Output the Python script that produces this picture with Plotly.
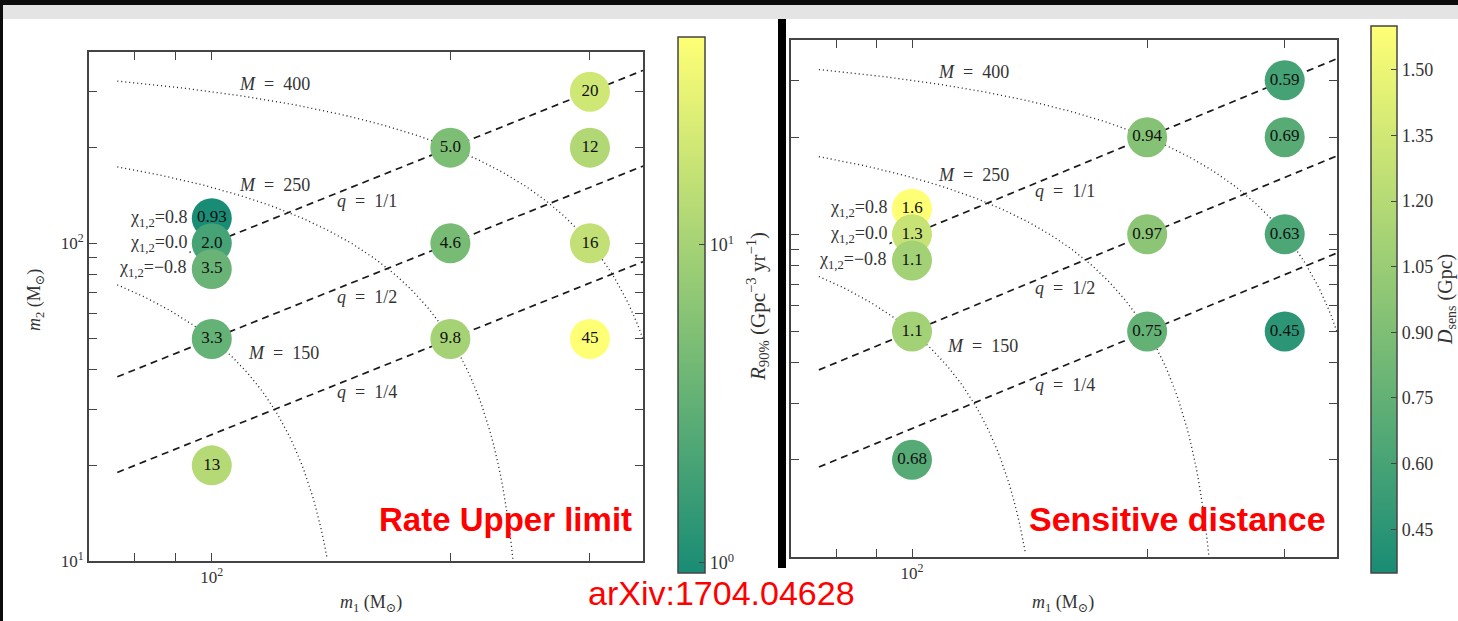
import numpy as np
import plotly.graph_objects as go

# ---- data -------------------------------------------------------------
# Component masses of the injected IMBH binaries (solar masses).
# The three stacked points at (100, 100) are the spin variants.
m1_vals = [100, 100, 100, 100, 100, 200, 200, 200, 300, 300, 300, 300]
m2_vals = [120, 100, 83, 50, 20, 200, 100, 50, 300, 200, 100, 50]

# 90% upper limit on merger rate (Gpc^-3 yr^-1)
rate_vals = [0.93, 2.0, 3.5, 3.3, 13, 5.0, 4.6, 9.8, 20, 12, 16, 45]
rate_text = ["0.93", "2.0", "3.5", "3.3", "13", "5.0", "4.6", "9.8", "20", "12", "16", "45"]

# Sensitive distance (Gpc)
dist_vals = [1.6, 1.3, 1.1, 1.1, 0.68, 0.94, 0.97, 0.75, 0.59, 0.69, 0.63, 0.45]
dist_text = ["1.6", "1.3", "1.1", "1.1", "0.68", "0.94", "0.97", "0.75", "0.59", "0.69", "0.63", "0.45"]

spin_labels = ["χ<sub>1,2</sub>=0.8", "χ<sub>1,2</sub>=0.0", "χ<sub>1,2</sub>=−0.8"]
spin_m2 = [120, 100, 83]

total_masses = [150, 250, 400]
mass_ratios = [1.0, 0.5, 0.25]
ratio_labels = ["1/1", "1/2", "1/4"]

x_ticks = [80, 90, 100, 200, 300]
x_ticktext = ["", "", "10<sup>2</sup>", "", ""]
y_ticks = [10, 20, 30, 40, 50, 60, 70, 80, 90, 100, 200, 300]
y_ticktext = ["10<sup>1</sup>", "", "", "", "", "", "", "", "", "10<sup>2</sup>", "", ""]

rate_range = [0.93, 45]
dist_range = [0.35, 1.6]
dist_cbar_ticks = [0.45, 0.60, 0.75, 0.90, 1.05, 1.20, 1.35, 1.50]

# ---- page geometry ------------------------------------------------------
W, H = 1458, 621


def px(x):
    return x / W


def py(y):
    return 1 - y / H


# "summer" colormap seen through a slight transparency on white
alpha = 0.9
def _blend(c):
    return "rgb(%d,%d,%d)" % tuple(round(255 * (alpha * v + 1 - alpha)) for v in c)

summer = [[0.0, _blend((0.0, 0.5, 0.4))], [1.0, _blend((1.0, 1.0, 0.4))]]

SERIF = "Liberation Serif, DejaVu Serif, serif"
SANS = "Liberation Sans, Arial, sans-serif"
AX_COLOR = "#444"
TXT_COLOR = "#333"
EN = "\u2002"

fig = go.Figure()

panels = [
    dict(xa="x", ya="y", xdom=[px(89), px(643)], ydom=[py(561), py(52)]),
    dict(xa="x2", ya="y2", xdom=[px(791), px(1337)], ydom=[py(557), py(40)]),
]

# guide curves: constant total mass (dotted) and constant mass ratio (dashed)
m1_line = np.geomspace(76, 400, 200)
for p in panels:
    for M in total_masses:
        m1c = m1_line[m1_line < M - 9.5]
        fig.add_trace(go.Scatter(
            x=m1c, y=M - m1c, mode="lines", xaxis=p["xa"], yaxis=p["ya"],
            line=dict(color="#1a1a1a", width=1.3, dash="1px,3px"),
            hoverinfo="skip", showlegend=False))
    for q in mass_ratios:
        m1q = np.array([76, 350])
        fig.add_trace(go.Scatter(
            x=m1q, y=q * m1q, mode="lines", xaxis=p["xa"], yaxis=p["ya"],
            line=dict(color="#1a1a1a", width=1.7, dash="7px,5px"),
            hoverinfo="skip", showlegend=False))

# rate upper limits (log colour scale)
fig.add_trace(go.Scatter(
    x=m1_vals, y=m2_vals, mode="markers+text", xaxis="x", yaxis="y",
    text=rate_text, textposition="middle center",
    textfont=dict(family=SERIF, size=17, color="#111"),
    marker=dict(size=40, color=np.log10(rate_vals), colorscale=summer,
                cmin=np.log10(rate_range[0]), cmax=np.log10(rate_range[1]),
                line=dict(width=0),
                colorbar=dict(
                    x=px(678), xanchor="left", xpad=0, ypad=0,
                    y=py(37), yanchor="top", len=536, lenmode="pixels",
                    thickness=27, outlinecolor=AX_COLOR, outlinewidth=1.5,
                    tickvals=[0, 1], ticktext=["10<sup>0</sup>", "10<sup>1</sup>"],
                    ticks="inside", ticklen=6, tickcolor=AX_COLOR,
                    tickfont=dict(family=SERIF, size=18, color=TXT_COLOR))),
    hoverinfo="skip", showlegend=False))

# sensitive distance (linear colour scale)
fig.add_trace(go.Scatter(
    x=m1_vals, y=m2_vals, mode="markers+text", xaxis="x2", yaxis="y2",
    text=dist_text, textposition="middle center",
    textfont=dict(family=SERIF, size=17, color="#111"),
    marker=dict(size=40, color=dist_vals, colorscale=summer,
                cmin=dist_range[0], cmax=dist_range[1], line=dict(width=0),
                colorbar=dict(
                    x=px(1371), xanchor="left", xpad=0, ypad=0,
                    y=py(26), yanchor="top", len=547, lenmode="pixels",
                    thickness=26, outlinecolor=AX_COLOR, outlinewidth=1.5,
                    tickvals=dist_cbar_ticks,
                    ticktext=["%.2f" % v for v in dist_cbar_ticks],
                    ticks="inside", ticklen=6, tickcolor=AX_COLOR,
                    tickfont=dict(family=SERIF, size=18, color=TXT_COLOR))),
    hoverinfo="skip", showlegend=False))

axis_common = dict(
    type="log", showgrid=False, zeroline=False, showline=True, automargin=False,
    linecolor=AX_COLOR, linewidth=1.6, mirror="ticks",
    ticks="inside", ticklen=8, tickwidth=1.2, tickcolor=AX_COLOR,
    tickfont=dict(family=SERIF, size=17, color=TXT_COLOR),
)

layout_axes = {}
for i, p in enumerate(panels):
    sx = "" if i == 0 else "2"
    layout_axes["xaxis" + sx] = dict(
        axis_common, domain=p["xdom"], range=[np.log10(70), np.log10(350)],
        tickmode="array", tickvals=x_ticks, ticktext=x_ticktext,
        anchor="y" + sx)
    layout_axes["yaxis" + sx] = dict(
        axis_common, domain=p["ydom"], range=[1, np.log10(400)],
        tickmode="array", tickvals=y_ticks,
        ticktext=y_ticktext if i == 0 else [""] * len(y_ticks),
        anchor="x" + sx)

annotations = []
lbl_font = dict(family=SERIF, size=18, color=TXT_COLOR)
for i, p in enumerate(panels):
    xr, yr = p["xa"], p["ya"]
    # spin labels next to the stacked points
    for lab, m2 in zip(spin_labels, spin_m2):
        annotations.append(dict(
            x=np.log10(100), y=np.log10(m2), xref=xr, yref=yr,
            text=lab, showarrow=False, xanchor="right", yanchor="middle",
            xshift=-22, font=dict(family=SERIF, size=18, color=TXT_COLOR),
            bgcolor="white", borderpad=2))
    # total-mass labels
    for M, (lx, ly) in zip(total_masses, [(123, 45), (120, 153), (120, 318)]):
        annotations.append(dict(
            x=np.log10(lx), y=np.log10(ly), xref=xr, yref=yr,
            xanchor="center", yanchor="middle",
            text="<i>M</i>%s=%s%d" % (EN, EN, M), showarrow=False, font=lbl_font))
    # mass-ratio labels
    for lab, ly in zip(ratio_labels, [136, 68, 34]):
        annotations.append(dict(
            x=np.log10(157), y=np.log10(ly), xref=xr, yref=yr,
            xanchor="center", yanchor="middle",
            text="<i>q</i>%s=%s%s" % (EN, EN, lab), showarrow=False, font=lbl_font))


def page_text(x, y, text, size, family=SERIF, color=TXT_COLOR, angle=0, xanchor="center"):
    return dict(x=px(x), y=py(y), xref="paper", yref="paper", showarrow=False,
                xanchor=xanchor, yanchor="middle", textangle=angle, text=text,
                font=dict(family=family, size=size, color=color))


annotations += [
    # axis titles
    page_text(371, 603, "<i>m</i><sub>1</sub> (M<sub>⊙</sub>)", 18),
    page_text(1063, 603, "<i>m</i><sub>1</sub> (M<sub>⊙</sub>)", 18),
    page_text(36, 300, "<i>m</i><sub>2</sub> (M<sub>⊙</sub>)", 18, angle=-90),
    # colourbar titles
    page_text(757, 306, "<i>R</i><sub>90%</sub> (Gpc<sup>−3</sup> yr<sup>−1</sup>)", 21, angle=-90),
    page_text(1447, 300, "<i>D</i><sub>sens</sub> (Gpc)", 20, angle=-90),
    # panel captions
    page_text(634, 519, "<b>Rate Upper limit</b>", 33, family=SANS, color="#ff0000", xanchor="right"),
    page_text(1328, 519, "<b>Sensitive distance</b>", 34, family=SANS, color="#ff0000", xanchor="right"),
    page_text(721, 593, "arXiv:1704.04628", 34, family=SANS, color="#ff0000"),
]

# slide frame: dark top/left borders, grey header strip, divider bar
shapes = [
    dict(type="rect", xref="paper", yref="paper", x0=0, x1=1, y0=py(19), y1=py(5),
         fillcolor="#e4e4e4", line=dict(width=0), layer="below"),
    dict(type="rect", xref="paper", yref="paper", x0=0, x1=1, y0=py(5), y1=1,
         fillcolor="#0c0c0c", line=dict(width=0), layer="below"),
    dict(type="rect", xref="paper", yref="paper", x0=0, x1=px(3), y0=0, y1=1,
         fillcolor="#0c0c0c", line=dict(width=0), layer="below"),
    dict(type="rect", xref="paper", yref="paper", x0=px(778), x1=px(786), y0=py(568), y1=py(19),
         fillcolor="#000000", line=dict(width=0)),
]

# faint banding across the colourbars (segmented, semi-transparent fill)
for x0, x1, top, bottom in [(678, 705, 37, 573), (1371, 1397, 26, 573)]:
    n_bands = int(round((bottom - top) / 11.2))
    step = (bottom - top) / n_bands
    for k in range(1, n_bands):
        yb = top + k * step
        shapes.append(dict(
            type="rect", xref="paper", yref="paper",
            x0=px(x0 + 1), x1=px(x1 - 1), y0=py(yb + 2), y1=py(yb),
            fillcolor="rgba(255,255,255,0.13)", line=dict(width=0)))

fig.update_layout(
    width=W, height=H, autosize=False,
    margin=dict(l=0, r=0, t=0, b=0, pad=0, autoexpand=False),
    paper_bgcolor="white", plot_bgcolor="white",
    annotations=annotations, shapes=shapes,
    **layout_axes,
)

fig.write_html("out.html")
